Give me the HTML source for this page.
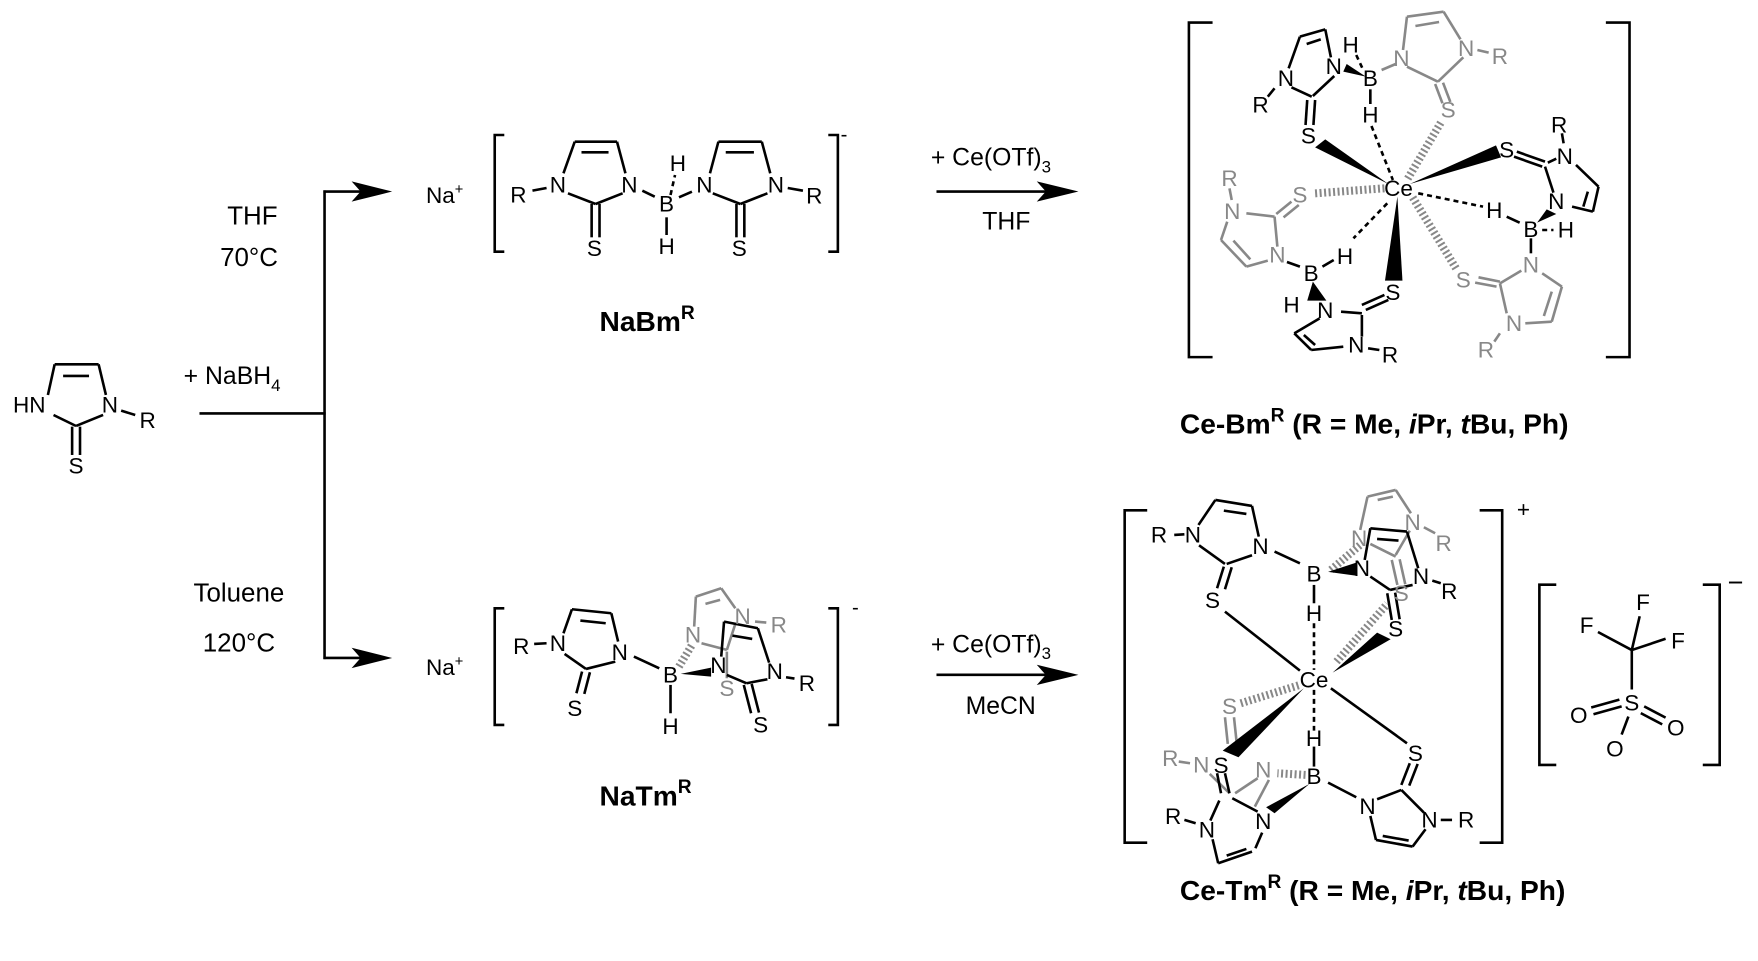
<!DOCTYPE html>
<html><head><meta charset="utf-8"><style>
html,body{margin:0;padding:0;background:#fff;}
svg{display:block;}
text{font-family:"Liberation Sans",Arial,sans-serif;fill:#000;}
.t{text-anchor:middle;dominant-baseline:central;font-size:20px;}
.gt{fill:#888;}
line,path,polyline{vector-effect:non-scaling-stroke;}
.k line,.k path{stroke:#000;stroke-width:2.6;fill:none;}
.gr line,.gr path{stroke:#888;stroke-width:2.6;fill:none;}
.d{stroke-dasharray:5 4;}
.h{stroke-width:8 !important;stroke-dasharray:2 2.5;}
.w{fill:#000;}
.wg{fill:#888;}
</style></head><body>
<svg width="1758" height="961" viewBox="0 0 1560 853" preserveAspectRatio="none" xmlns="http://www.w3.org/2000/svg">

<!-- connectors -->
<g class="k">
<line x1="177" y1="367" x2="289" y2="367"/>
<line x1="288" y1="169" x2="288" y2="585"/>
<line x1="287" y1="170" x2="325" y2="170"/>
<line x1="287" y1="584" x2="325" y2="584"/>
<line x1="831" y1="170" x2="935" y2="170"/>
<line x1="831" y1="599" x2="935" y2="599"/>
<!-- brackets -->
<path d="M1076,20 H1055 V317 H1076"/>
<path d="M1425,20 H1446 V317 H1425"/>
<path d="M1018,453 H998 V748 H1018"/>
<path d="M1313,453 H1333 V748 H1313"/>
<path d="M1381,519 H1366 V679 H1381"/>
<path d="M1511,519 H1526 V679 H1511"/>
<!-- triflate -->
<line x1="1448" y1="577" x2="1455" y2="547"/>
<line x1="1448" y1="577" x2="1418" y2="561"/>
<line x1="1448" y1="577" x2="1478" y2="567"/>
<line x1="1448" y1="577" x2="1448" y2="612"/>
<line x1="1412" y1="628" x2="1437" y2="621"/>
<line x1="1414" y1="634" x2="1439" y2="627"/>
<line x1="1459" y1="627" x2="1478" y2="637"/>
<line x1="1456" y1="633" x2="1475" y2="643"/>
<line x1="1445" y1="636" x2="1439" y2="652"/>
</g>
<polygon points="348,170 312,161 320,170 312,179" fill="#000"/>
<polygon points="348,584 312,575 320,584 312,593" fill="#000"/>
<polygon points="957,170 920,161 928,170 920,179" fill="#000"/>
<polygon points="957,599 920,590 928,599 920,608" fill="#000"/>

<text class="t" x="1458" y="535">F</text>
<text class="t" x="1408" y="555">F</text>
<text class="t" x="1489" y="569">F</text>
<text class="t" x="1448" y="624">S</text>
<text class="t" x="1401" y="635">O</text>
<text class="t" x="1487" y="646">O</text>
<text class="t" x="1433" y="665">O</text>

<!-- texts -->
<text x="163" y="341" font-size="22">+ NaBH<tspan font-size="15" dy="6">4</tspan></text>
<text class="t" x="224" y="192" style="font-size:23px">THF</text>
<text class="t" x="221" y="229" style="font-size:23px">70°C</text>
<text class="t" x="212" y="527" style="font-size:23px">Toluene</text>
<text class="t" x="212" y="571" style="font-size:23px">120°C</text>
<text x="826" y="147" font-size="22">+ Ce(OTf)<tspan font-size="15" dy="6">3</tspan></text>
<text class="t" x="893" y="197" style="font-size:22px">THF</text>
<text x="826" y="579" font-size="22">+ Ce(OTf)<tspan font-size="15" dy="6">3</tspan></text>
<text class="t" x="888" y="627" style="font-size:22px">MeCN</text>
<text x="1346" y="459" font-size="20">+</text>
<text x="1533" y="525" font-size="24">−</text>
<text x="1047" y="385" font-size="25" font-weight="bold">Ce-Bm<tspan font-size="17" dy="-11">R</tspan><tspan dy="11"> (R = Me, </tspan><tspan font-style="italic">i</tspan>Pr, <tspan font-style="italic">t</tspan>Bu, Ph)</text>
<text x="1047" y="799" font-size="25" font-weight="bold">Ce-Tm<tspan font-size="17" dy="-11">R</tspan><tspan dy="11"> (R = Me, </tspan><tspan font-style="italic">i</tspan>Pr, <tspan font-style="italic">t</tspan>Bu, Ph)</text>
<text x="532" y="294" font-size="25" font-weight="bold">NaBm<tspan font-size="17" dy="-11">R</tspan></text>
<text x="532" y="715" font-size="25" font-weight="bold">NaTm<tspan font-size="17" dy="-11">R</tspan></text>
<text x="378" y="180" font-size="20">Na<tspan font-size="13" dy="-8">+</tspan></text>
<text x="378" y="599" font-size="20">Na<tspan font-size="13" dy="-8">+</tspan></text>
<text x="746" y="125" font-size="18">-</text>
<text x="756" y="545" font-size="18">-</text>

<!-- Q1 : left molecule + NaBm -->
<g transform="scale(0.5,0.29586)">
 <g class="k">
  <line x1="85" y1="1185" x2="97" y2="1093"/><line x1="97" y1="1093" x2="175" y2="1093"/><line x1="175" y1="1093" x2="188" y2="1185"/>
  <line x1="112" y1="1128" x2="158" y2="1128"/>
  <line x1="95" y1="1245" x2="135" y2="1278"/><line x1="183" y1="1245" x2="135" y2="1278"/>
  <line x1="128" y1="1280" x2="128" y2="1365"/><line x1="142" y1="1280" x2="142" y2="1365"/>
  <line x1="215" y1="1232" x2="240" y2="1245"/>
  <path d="M895,405 H878 V755 H895"/><path d="M1470,405 H1487 V755 H1470"/>
  <line x1="1000" y1="520" x2="1020" y2="425"/><line x1="1020" y1="425" x2="1095" y2="425"/><line x1="1095" y1="425" x2="1110" y2="520"/>
  <line x1="1032" y1="457" x2="1080" y2="457"/>
  <line x1="1008" y1="580" x2="1057" y2="612"/><line x1="1105" y1="580" x2="1057" y2="612"/>
  <line x1="1050" y1="612" x2="1050" y2="712"/><line x1="1064" y1="612" x2="1064" y2="712"/>
  <line x1="945" y1="572" x2="970" y2="564"/>
  <line x1="1140" y1="572" x2="1162" y2="590"/>
  <line x1="1183" y1="652" x2="1183" y2="705"/>
  <line class="d" x1="1190" y1="585" x2="1198" y2="525"/>
  <line x1="1205" y1="592" x2="1228" y2="575"/>
  <line x1="1260" y1="520" x2="1275" y2="425"/><line x1="1275" y1="425" x2="1352" y2="425"/><line x1="1352" y1="425" x2="1367" y2="520"/>
  <line x1="1288" y1="457" x2="1338" y2="457"/>
  <line x1="1265" y1="580" x2="1314" y2="612"/><line x1="1362" y1="580" x2="1314" y2="612"/>
  <line x1="1307" y1="612" x2="1307" y2="712"/><line x1="1321" y1="612" x2="1321" y2="712"/>
  <line x1="1398" y1="564" x2="1425" y2="572"/>
 </g>
 <text class="t" transform="translate(52,1215) scale(2,3.38)">HN</text>
 <text class="t" transform="translate(195,1215) scale(2,3.38)">N</text>
 <text class="t" transform="translate(262,1262) scale(2,3.38)">R</text>
 <text class="t" transform="translate(135,1398) scale(2,3.38)">S</text>
 <text class="t" transform="translate(990,555) scale(2,3.38)">N</text>
 <text class="t" transform="translate(1117,555) scale(2,3.38)">N</text>
 <text class="t" transform="translate(920,585) scale(2,3.38)">R</text>
 <text class="t" transform="translate(1055,745) scale(2,3.38)">S</text>
 <text class="t" transform="translate(1183,612) scale(2,3.38)">B</text>
 <text class="t" transform="translate(1203,490) scale(2,3.38)">H</text>
 <text class="t" transform="translate(1183,740) scale(2,3.38)">H</text>
 <text class="t" transform="translate(1250,555) scale(2,3.38)">N</text>
 <text class="t" transform="translate(1377,555) scale(2,3.38)">N</text>
 <text class="t" transform="translate(1445,588) scale(2,3.38)">R</text>
 <text class="t" transform="translate(1312,745) scale(2,3.38)">S</text>
</g>

<!-- Q3 : NaTm -->
<g transform="translate(0,426) scale(0.5,0.29586)">
 <g class="k">
  <path d="M895,385 H878 V735 H895"/><path d="M1470,385 H1487 V735 H1470"/>
  <line x1="948" y1="492" x2="970" y2="490"/>
  <line x1="1000" y1="460" x2="1015" y2="388"/><line x1="1015" y1="388" x2="1085" y2="400"/><line x1="1085" y1="400" x2="1097" y2="485"/>
  <line x1="1030" y1="422" x2="1075" y2="430"/>
  <line x1="1002" y1="522" x2="1040" y2="567"/><line x1="1092" y1="545" x2="1040" y2="567"/>
  <line x1="1033" y1="575" x2="1023" y2="640"/><line x1="1047" y1="577" x2="1037" y2="642"/>
  <line x1="1125" y1="530" x2="1170" y2="565"/>
  <line x1="1190" y1="615" x2="1190" y2="700"/>
 </g>
 <g class="gr">
  <line x1="1232" y1="440" x2="1235" y2="350"/><line x1="1235" y1="350" x2="1280" y2="325"/><line x1="1280" y1="325" x2="1305" y2="385"/>
  <line x1="1252" y1="372" x2="1278" y2="360"/>
  <line x1="1245" y1="490" x2="1290" y2="510"/><line x1="1305" y1="432" x2="1290" y2="510"/>
  <line x1="1290" y1="515" x2="1290" y2="595"/>
  <line x1="1340" y1="425" x2="1360" y2="428"/>
  <line class="h" x1="1205" y1="560" x2="1228" y2="495"/>
 </g>
 <g class="k">
  <line x1="1280" y1="530" x2="1285" y2="425"/><line x1="1285" y1="425" x2="1345" y2="445"/><line x1="1345" y1="445" x2="1365" y2="548"/>
  <line x1="1300" y1="467" x2="1335" y2="477"/>
  <line x1="1290" y1="585" x2="1325" y2="610"/><line x1="1362" y1="598" x2="1325" y2="610"/>
  <line x1="1320" y1="615" x2="1333" y2="700"/><line x1="1334" y1="612" x2="1347" y2="698"/>
  <line x1="1395" y1="592" x2="1410" y2="596"/>
 </g>
 <polygon class="w" points="1208,582 1262,563 1262,590"/>
 <text class="t" transform="translate(925,500) scale(2,3.38)">R</text>
 <text class="t" transform="translate(990,490) scale(2,3.38)">N</text>
 <text class="t" transform="translate(1100,518) scale(2,3.38)">N</text>
 <text class="t" transform="translate(1020,685) scale(2,3.38)">S</text>
 <text class="t" transform="translate(1190,585) scale(2,3.38)">B</text>
 <text class="t" transform="translate(1190,740) scale(2,3.38)">H</text>
 <text class="t gt" transform="translate(1230,465) scale(2,3.38)">N</text>
 <text class="t gt" transform="translate(1318,410) scale(2,3.38)">N</text>
 <text class="t gt" transform="translate(1382,435) scale(2,3.38)">R</text>
 <text class="t gt" transform="translate(1290,625) scale(2,3.38)">S</text>
 <text class="t" transform="translate(1275,556) scale(2,3.38)">N</text>
 <text class="t" transform="translate(1375,575) scale(2,3.38)">N</text>
 <text class="t" transform="translate(1432,610) scale(2,3.38)">R</text>
 <text class="t" transform="translate(1350,735) scale(2,3.38)">S</text>
</g>

<!-- Q2 : Ce-Bm -->
<g transform="translate(781,0) scale(0.5,0.29586)">
 <g class="gr">
  <line x1="890" y1="210" x2="915" y2="192"/>
  <line x1="928" y1="150" x2="935" y2="50"/><line x1="935" y1="50" x2="1000" y2="35"/><line x1="1000" y1="35" x2="1030" y2="118"/>
  <line x1="950" y1="78" x2="992" y2="66"/>
  <line x1="935" y1="200" x2="990" y2="245"/><line x1="1035" y1="172" x2="990" y2="245"/>
  <line x1="985" y1="252" x2="998" y2="310"/><line x1="999" y1="248" x2="1012" y2="306"/>
  <line x1="1060" y1="150" x2="1080" y2="158"/>
  <line class="h" x1="995" y1="368" x2="935" y2="540"/>
  <line x1="1175" y1="820" x2="1210" y2="860"/><line x1="1210" y1="860" x2="1192" y2="965"/><line x1="1192" y1="965" x2="1145" y2="970"/>
  <line x1="1192" y1="875" x2="1178" y2="948"/>
  <line x1="1112" y1="940" x2="1100" y2="850"/><line x1="1100" y1="850" x2="1138" y2="812"/>
  <line x1="1062" y1="832" x2="1100" y2="845"/><line x1="1056" y1="848" x2="1094" y2="860"/>
  <line x1="1100" y1="1000" x2="1090" y2="1025"/>
  <line class="h" x1="1022" y1="805" x2="945" y2="592"/>
  <line class="h" x1="772" y1="580" x2="895" y2="565"/>
  <line x1="730" y1="605" x2="703" y2="642"/><line x1="743" y1="615" x2="716" y2="652"/>
  <line x1="650" y1="640" x2="700" y2="650"/><line x1="700" y1="650" x2="705" y2="740"/>
  <line x1="688" y1="782" x2="650" y2="800"/><line x1="650" y1="800" x2="605" y2="720"/><line x1="605" y1="720" x2="616" y2="665"/>
  <line x1="627" y1="722" x2="657" y2="778"/>
  <line x1="620" y1="565" x2="624" y2="600"/>
 </g>
 <g class="k">
  <line x1="725" y1="205" x2="745" y2="110"/><line x1="745" y1="110" x2="790" y2="88"/><line x1="790" y1="88" x2="800" y2="172"/>
  <line x1="757" y1="132" x2="782" y2="118"/>
  <line x1="806" y1="228" x2="768" y2="288"/><line x1="730" y1="262" x2="766" y2="290"/>
  <line x1="758" y1="300" x2="755" y2="375"/><line x1="772" y1="300" x2="769" y2="375"/>
  <line x1="700" y1="265" x2="688" y2="290"/>
  <line class="d" x1="845" y1="165" x2="856" y2="205"/>
  <line x1="870" y1="268" x2="870" y2="312"/>
  <line class="d" x1="872" y1="378" x2="910" y2="540"/>
  <line x1="1130" y1="455" x2="1180" y2="485"/><line x1="1125" y1="470" x2="1175" y2="500"/>
  <line x1="1185" y1="488" x2="1200" y2="476"/>
  <line x1="1235" y1="495" x2="1275" y2="560"/><line x1="1275" y1="560" x2="1265" y2="635"/><line x1="1265" y1="635" x2="1228" y2="620"/>
  <line x1="1256" y1="575" x2="1248" y2="620"/>
  <line x1="1195" y1="578" x2="1180" y2="500"/>
  <line x1="1210" y1="400" x2="1213" y2="430"/>
  <line class="d" x1="955" y1="580" x2="1070" y2="620"/>
  <line x1="1112" y1="650" x2="1135" y2="668"/>
  <line class="d" x1="1175" y1="690" x2="1195" y2="690"/>
  <line x1="1155" y1="715" x2="1155" y2="760"/>
  <line x1="895" y1="885" x2="855" y2="915"/><line x1="902" y1="900" x2="862" y2="930"/>
  <line x1="818" y1="935" x2="855" y2="940"/>
  <line x1="780" y1="955" x2="735" y2="1000"/><line x1="735" y1="1000" x2="765" y2="1050"/><line x1="765" y1="1050" x2="822" y2="1040"/>
  <line x1="752" y1="1005" x2="772" y2="1035"/>
  <line x1="855" y1="1010" x2="855" y2="945"/>
  <line x1="866" y1="1045" x2="886" y2="1050"/>
  <line x1="785" y1="800" x2="805" y2="780"/>
  <line x1="745" y1="800" x2="722" y2="786"/>
  <line class="d" x1="900" y1="610" x2="840" y2="715"/>
 </g>
 <polygon class="w" points="862,230 828,192 822,215"/>
 <polygon class="w" points="790,418 772,442 902,552"/>
 <polygon class="w" points="940,552 1093,436 1102,472"/>
 <polygon class="w" points="1166,668 1183,628 1200,642"/>
 <polygon class="w" points="918,590 896,842 927,842"/>
 <polygon class="w" points="768,845 758,902 792,902"/>
 <text class="t" transform="translate(720,235) scale(2,3.38)">N</text>
 <text class="t" transform="translate(805,200) scale(2,3.38)">N</text>
 <text class="t" transform="translate(675,315) scale(2,3.38)">R</text>
 <text class="t" transform="translate(760,408) scale(2,3.38)">S</text>
 <text class="t" transform="translate(835,135) scale(2,3.38)">H</text>
 <text class="t" transform="translate(870,235) scale(2,3.38)">B</text>
 <text class="t" transform="translate(870,345) scale(2,3.38)">H</text>
 <text class="t gt" transform="translate(925,175) scale(2,3.38)">N</text>
 <text class="t gt" transform="translate(1040,145) scale(2,3.38)">N</text>
 <text class="t gt" transform="translate(1100,170) scale(2,3.38)">R</text>
 <text class="t gt" transform="translate(1008,330) scale(2,3.38)">S</text>
 <text class="t" transform="translate(920,565) scale(2,3.38)">Ce</text>
 <text class="t" transform="translate(1112,450) scale(2,3.38)">S</text>
 <text class="t" transform="translate(1215,470) scale(2,3.38)">N</text>
 <text class="t" transform="translate(1205,375) scale(2,3.38)">R</text>
 <text class="t" transform="translate(1200,605) scale(2,3.38)">N</text>
 <text class="t" transform="translate(1090,632) scale(2,3.38)">H</text>
 <text class="t" transform="translate(1155,688) scale(2,3.38)">B</text>
 <text class="t" transform="translate(1217,690) scale(2,3.38)">H</text>
 <text class="t gt" transform="translate(1155,795) scale(2,3.38)">N</text>
 <text class="t gt" transform="translate(1125,970) scale(2,3.38)">N</text>
 <text class="t gt" transform="translate(1035,840) scale(2,3.38)">S</text>
 <text class="t gt" transform="translate(1075,1050) scale(2,3.38)">R</text>
 <text class="t" transform="translate(910,878) scale(2,3.38)">S</text>
 <text class="t" transform="translate(790,932) scale(2,3.38)">N</text>
 <text class="t" transform="translate(845,1035) scale(2,3.38)">N</text>
 <text class="t" transform="translate(905,1065) scale(2,3.38)">R</text>
 <text class="t" transform="translate(730,915) scale(2,3.38)">H</text>
 <text class="t" transform="translate(765,820) scale(2,3.38)">B</text>
 <text class="t" transform="translate(825,770) scale(2,3.38)">H</text>
 <text class="t gt" transform="translate(705,765) scale(2,3.38)">N</text>
 <text class="t gt" transform="translate(745,585) scale(2,3.38)">S</text>
 <text class="t gt" transform="translate(625,635) scale(2,3.38)">N</text>
 <text class="t gt" transform="translate(620,535) scale(2,3.38)">R</text>
</g>

<!-- Q4 : Ce-Tm -->
<g transform="translate(781,426) scale(0.5,0.29586)">
 <g class="gr">
  <line x1="852" y1="150" x2="865" y2="50"/><line x1="865" y1="50" x2="915" y2="30"/><line x1="915" y1="30" x2="942" y2="100"/>
  <line x1="883" y1="60" x2="910" y2="50"/>
  <line x1="940" y1="152" x2="915" y2="225"/><line x1="870" y1="192" x2="915" y2="230"/>
  <line x1="908" y1="240" x2="918" y2="315"/><line x1="922" y1="238" x2="932" y2="313"/>
  <line x1="965" y1="142" x2="985" y2="160"/>
  <line class="h" x1="800" y1="270" x2="852" y2="195"/>
  <line class="h" x1="810" y1="545" x2="900" y2="372"/>
  <line class="h" x1="640" y1="670" x2="745" y2="615"/>
  <line x1="612" y1="712" x2="617" y2="792"/><line x1="628" y1="712" x2="633" y2="792"/>
  <line x1="530" y1="845" x2="550" y2="850"/>
  <line x1="585" y1="882" x2="620" y2="940"/><line x1="670" y1="895" x2="630" y2="940"/>
  <line x1="690" y1="900" x2="665" y2="980"/>
  <line class="h" x1="755" y1="885" x2="705" y2="880"/>
 </g>
 <g class="k">
  <line x1="522" y1="165" x2="540" y2="163"/>
  <line x1="565" y1="135" x2="595" y2="60"/><line x1="595" y1="60" x2="660" y2="78"/><line x1="660" y1="78" x2="672" y2="170"/>
  <line x1="610" y1="92" x2="650" y2="102"/>
  <line x1="660" y1="226" x2="615" y2="252"/><line x1="566" y1="196" x2="612" y2="252"/>
  <line x1="610" y1="260" x2="598" y2="325"/><line x1="624" y1="262" x2="612" y2="328"/>
  <line x1="700" y1="215" x2="745" y2="250"/>
  <line x1="770" y1="315" x2="770" y2="370"/>
  <line class="d" x1="770" y1="430" x2="770" y2="570"/>
  <line x1="612" y1="395" x2="745" y2="572"/>
  <line x1="860" y1="240" x2="870" y2="145"/><line x1="870" y1="145" x2="935" y2="155"/><line x1="935" y1="155" x2="955" y2="265"/>
  <line x1="882" y1="177" x2="920" y2="182"/>
  <line x1="945" y1="315" x2="905" y2="330"/><line x1="870" y1="290" x2="905" y2="330"/>
  <line x1="900" y1="340" x2="908" y2="420"/><line x1="914" y1="338" x2="922" y2="418"/>
  <line x1="980" y1="302" x2="995" y2="310"/>
  <line x1="800" y1="625" x2="935" y2="790"/>
  <line x1="940" y1="850" x2="925" y2="915"/><line x1="954" y1="852" x2="939" y2="917"/>
  <line x1="795" y1="908" x2="845" y2="952"/>
  <line x1="870" y1="1008" x2="880" y2="1080"/><line x1="880" y1="1080" x2="945" y2="1100"/><line x1="945" y1="1100" x2="968" y2="1048"/>
  <line x1="892" y1="1068" x2="938" y2="1082"/>
  <line x1="965" y1="998" x2="925" y2="930"/><line x1="925" y1="930" x2="882" y2="958"/>
  <line x1="995" y1="1020" x2="1015" y2="1020"/>
  <line class="d" x1="770" y1="630" x2="770" y2="752"/>
  <line x1="770" y1="800" x2="770" y2="860"/>
  <line x1="598" y1="880" x2="605" y2="940"/><line x1="612" y1="880" x2="620" y2="940"/>
  <line x1="540" y1="1020" x2="560" y2="1030"/>
  <line x1="602" y1="962" x2="586" y2="1022"/><line x1="590" y1="1078" x2="600" y2="1150"/><line x1="600" y1="1150" x2="660" y2="1115"/>
  <line x1="615" y1="1127" x2="650" y2="1107"/>
  <line x1="666" y1="1105" x2="678" y2="1058"/>
  <line x1="670" y1="995" x2="625" y2="955"/>
 </g>
 <polygon class="w" points="795,276 845,248 847,288"/>
 <polygon class="w" points="803,578 882,458 906,478"/>
 <polygon class="w" points="752,625 608,812 636,832"/>
 <polygon class="w" points="762,912 700,1000 685,982"/>
 <text class="t" transform="translate(495,165) scale(2,3.38)">R</text>
 <text class="t" transform="translate(555,165) scale(2,3.38)">N</text>
 <text class="t" transform="translate(675,200) scale(2,3.38)">N</text>
 <text class="t" transform="translate(590,362) scale(2,3.38)">S</text>
 <text class="t" transform="translate(770,282) scale(2,3.38)">B</text>
 <text class="t" transform="translate(770,400) scale(2,3.38)">H</text>
 <text class="t gt" transform="translate(850,175) scale(2,3.38)">N</text>
 <text class="t gt" transform="translate(945,128) scale(2,3.38)">N</text>
 <text class="t gt" transform="translate(1000,190) scale(2,3.38)">R</text>
 <text class="t gt" transform="translate(925,340) scale(2,3.38)">S</text>
 <text class="t" transform="translate(855,265) scale(2,3.38)">N</text>
 <text class="t" transform="translate(960,290) scale(2,3.38)">N</text>
 <text class="t" transform="translate(1010,335) scale(2,3.38)">R</text>
 <text class="t" transform="translate(915,447) scale(2,3.38)">S</text>
 <text class="t" transform="translate(770,600) scale(2,3.38)">Ce</text>
 <text class="t" transform="translate(950,820) scale(2,3.38)">S</text>
 <text class="t" transform="translate(865,980) scale(2,3.38)">N</text>
 <text class="t" transform="translate(975,1020) scale(2,3.38)">N</text>
 <text class="t" transform="translate(1040,1020) scale(2,3.38)">R</text>
 <text class="t" transform="translate(770,890) scale(2,3.38)">B</text>
 <text class="t" transform="translate(770,775) scale(2,3.38)">H</text>
 <text class="t gt" transform="translate(620,680) scale(2,3.38)">S</text>
 <text class="t gt" transform="translate(570,855) scale(2,3.38)">N</text>
 <text class="t gt" transform="translate(515,835) scale(2,3.38)">R</text>
 <text class="t gt" transform="translate(680,870) scale(2,3.38)">N</text>
 <text class="t" transform="translate(605,857) scale(2,3.38)">S</text>
 <text class="t" transform="translate(580,1050) scale(2,3.38)">N</text>
 <text class="t" transform="translate(520,1010) scale(2,3.38)">R</text>
 <text class="t" transform="translate(680,1025) scale(2,3.38)">N</text>
</g>
</svg>
</body></html>
